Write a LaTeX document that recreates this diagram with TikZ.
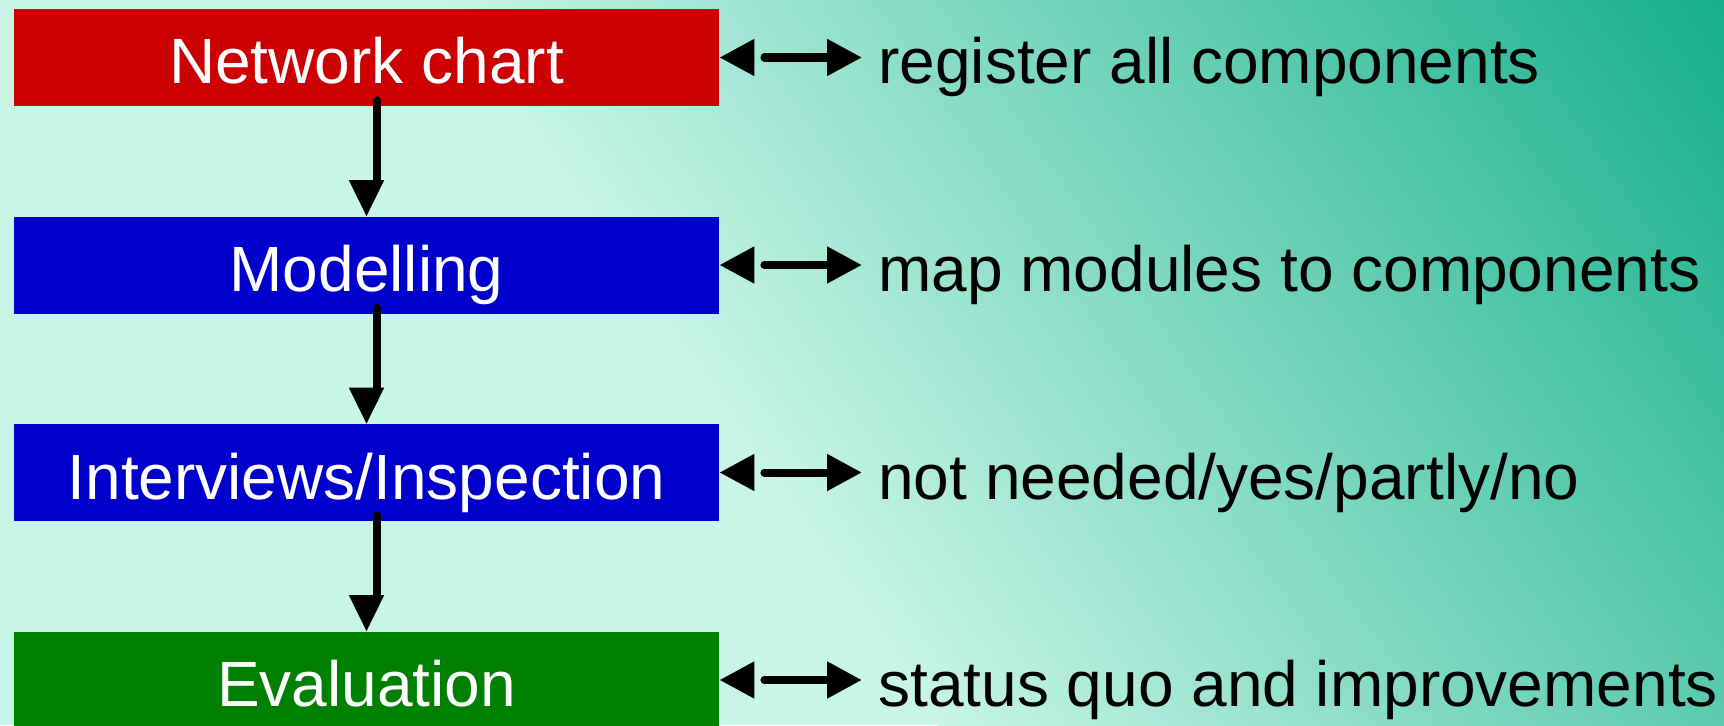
\documentclass[tikz,border=0pt]{standalone}
\usepackage{fontspec}
\setmainfont{Liberation Sans}
\usetikzlibrary{arrows.meta}

\definecolor{bgmint}{HTML}{C8F5E6}
\definecolor{bgteal}{HTML}{16AF8C}
\definecolor{boxred}{HTML}{CC0000}
\definecolor{boxblue}{HTML}{0000CC}
\definecolor{boxgreen}{HTML}{008000}

\begin{document}
\begin{tikzpicture}[x=0.5pt,y=0.5pt]
  % Einstellungen fuer Kaesten, Texte und Pfeile
  \tikzset{
    box/.style={
      minimum width=352.5pt, % Breite der Kaesten
      minimum height=48.5pt, % Hoehe der Kaesten
      inner sep=0pt,
      text=white, % weisse Schrift
      font=\fontsize{32}{38}\selectfont,
      text height=29pt, text depth=2.5pt
    },
    desc/.style={
      anchor=west, inner xsep=8pt, inner ysep=0pt,
      font=\fontsize{32}{38}\selectfont,
      text height=29pt, text depth=2.5pt
    },
    stem/.style={line width=4pt, line cap=round}, % Schaft nach unten
    tipdown/.style={line width=1pt, shorten <=37pt,
      -{Triangle[length=18pt,width=17.5pt]}}, % Spitze nach unten
    both/.style={line width=4pt, line cap=round, shorten <=22.5pt,
      -{Triangle[length=17.5pt,width=17.5pt]},
      postaction={draw, line cap=butt, shorten <=0pt, shorten >=57pt,
        {Triangle[length=17.5pt,width=17.5pt]}-}}
  }

  % Hintergrund mit Verlauf nach rechts oben
  \useasboundingbox (0,0) rectangle (1724,725);
  \begin{scope}
    \clip (0,0) rectangle (1724,725);
    \fill[bgmint] (0,0) rectangle (1724,725);
    \begin{scope}[transform canvas={rotate around={34.6:(1724,725)}}]
      \shade[left color=bgmint, right color=bgteal] (666,-1300) rectangle (1724,2700);
    \end{scope}
  \end{scope}

  % Kaesten mit Beschreibung rechts daneben
  \foreach \name/\farbe/\titel/\beschr [count=\i] in {
      net/boxred/{Network chart}/{register all components},
      mod/boxblue/{Modelling}/{map modules to components},
      int/boxblue/{Interviews/Inspection}/{not needed/yes/partly/no},
      eva/boxgreen/{Evaluation}/{status quo and improvements}} {
    \node[box, fill=\farbe] (\name) at (366.5, {667.5-207.5*(\i-1)}) {\titel};
    \node[desc] (\name-t) at (862, {667.5-207.5*(\i-1)}) {\beschr};
    \draw[both] (\name.east) -- (\name-t.west);
  }

  % Pfeile nach unten
  \foreach \von/\nach in {net/mod, mod/int, int/eva} {
    \draw[stem] ([xshift=5pt, yshift=3pt]\von.south) -- ([xshift=5pt, yshift=18pt]\nach.north);
    \draw[tipdown] (\von.south) -- (\nach.north);
  }
\end{tikzpicture}
\end{document}
